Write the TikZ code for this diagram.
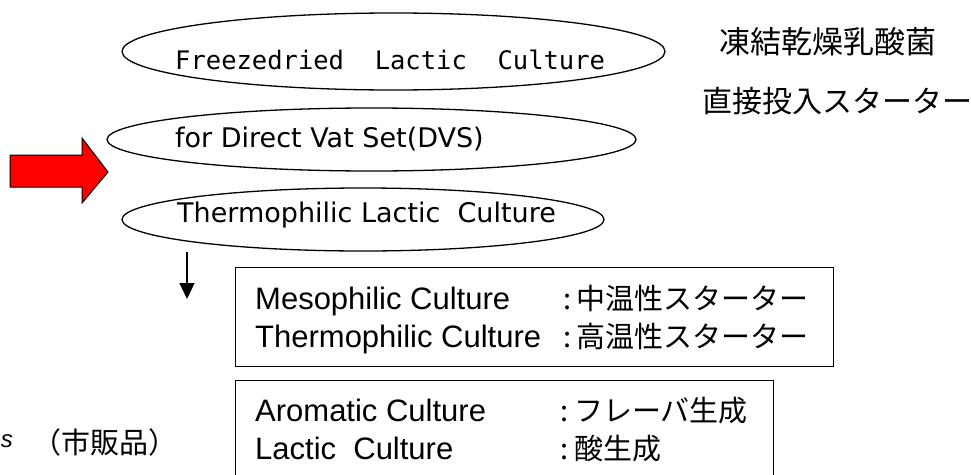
\documentclass[tikz,border=0pt]{standalone}
\usepackage{fontspec}
\setmainfont{Liberation Sans}
\newfontfamily\jp{Noto Sans CJK JP}
\newfontfamily\dvs{DejaVu Sans}
\newfontfamily\dvm{DejaVu Sans Mono}
\usetikzlibrary{shapes.geometric,arrows.meta}
\tikzset{
  ell/.style={draw, ellipse, line width=1.3pt, inner sep=0pt},
  etext/.style={anchor=base west, inner sep=0pt, font=\dvs\fontsize{27}{32}\selectfont},
  jlabel/.style={anchor=west, inner sep=0pt, font=\jp\fontsize{31}{36}\selectfont},
  boxt/.style={anchor=base west, inner sep=0pt, font=\fontsize{31}{38}\selectfont},
  boxj/.style={anchor=base west, inner sep=0pt, font=\jp\fontsize{29}{38}\selectfont},
  infobox/.style={draw, line width=1.3pt, anchor=north west, inner sep=0pt},
}
\begin{document}
\begin{tikzpicture}[x=1pt,y=-1pt]
\useasboundingbox (0,0) rectangle (971,474);
% ellipses
\node[ell, minimum width=543pt, minimum height=77pt] (e1) at (393.5,51.5) {};
\node[ell, minimum width=529pt, minimum height=63pt] (e2) at (371.5,139.5) {};
\node[ell, minimum width=482pt, minimum height=63pt] (e3) at (363,219.5) {};
\node[etext, font=\dvm\fontsize{25.5}{32}\selectfont] (t1) at (175,69) {Freezedried\ \ Lactic\ \ Culture};
\node[etext] (t2) at (175,147) {for Direct Vat Set(DVS)};
\node[etext] (t3) at (177,222) {Thermophilic Lactic\ \ Culture};
% japanese labels
\node[jlabel] (j1) at (719,41.5) {凍結乾燥乳酸菌};
\node[jlabel, font=\jp\fontsize{30}{36}\selectfont] (j2) at (702,101) {直接投入スターター};
% red arrow
\filldraw[fill=red, draw=black, line width=1pt]
  (10,155) -- (82,155) -- (82,138) -- (108,172) -- (82,203) -- (82,187) -- (10,187) -- cycle;
% down arrow
\coordinate (d1) at (187,252);
\coordinate (d2) at (187,299);
\draw[line width=1.3pt, -{Triangle[width=15pt,length=16pt]}] (d1) -- (d2);
% boxes
\node[infobox, minimum width=598pt, minimum height=99pt] (b1) at (235,267) {};
\node[infobox, minimum width=538pt, minimum height=130pt] (b2) at (235,380) {};
\node[boxt] (m1) at (255,309) {Mesophilic Culture};
\node[boxt] (m2) at (255,347) {Thermophilic Culture};
\node[boxj] (mc1) at (563,309) {:};
\node[boxj] (mc2) at (563,347) {:};
\node[boxj] (mj1) at (576,309) {中温性スターター};
\node[boxj] (mj2) at (576,347) {高温性スターター};
\node[boxt] (a1) at (255,421) {Aromatic Culture};
\node[boxt] (a2) at (255,459) {Lactic\ \ Culture};
\node[boxj] (ac1) at (560,421) {:};
\node[boxj] (ac2) at (560,459) {:};
\node[boxj] (aj1) at (574,421) {フレーバ生成};
\node[boxj] (aj2) at (574,459) {酸生成};
% bottom-left fragment
\node[anchor=base east, inner sep=0pt, font=\itshape\fontsize{24}{28}\selectfont] (s) at (13,447) {s};
\node[anchor=base west, inner sep=0pt, font=\jp\fontsize{29}{32}\selectfont] (sh) at (32,453) {（市販品）};
\end{tikzpicture}
\end{document}
